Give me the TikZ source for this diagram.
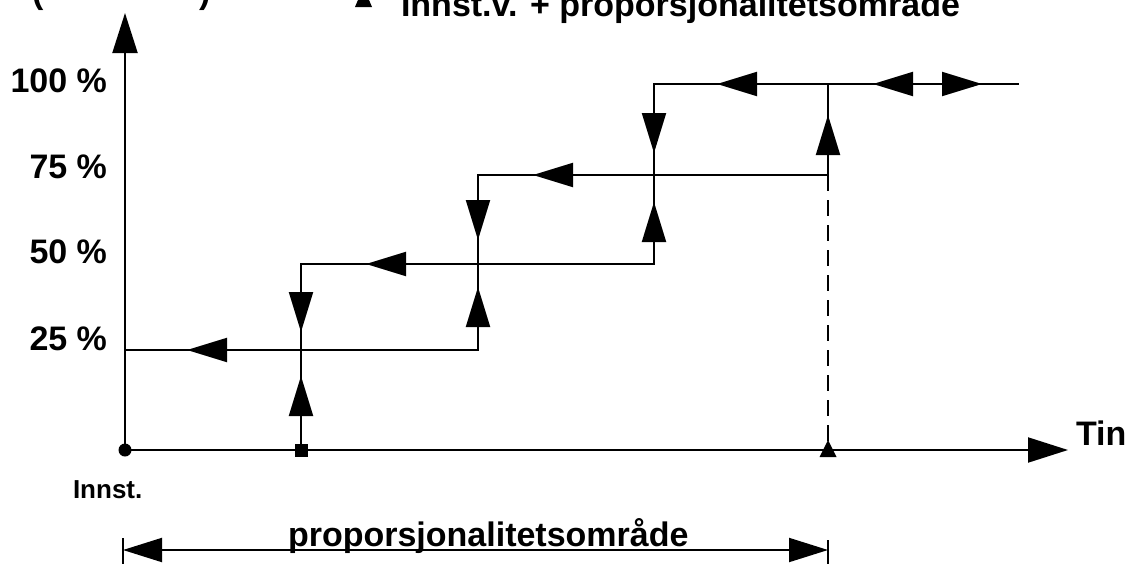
\documentclass[tikz,border=0pt]{standalone}
\usepackage{fontspec}
\setmainfont{Liberation Sans}
\usetikzlibrary{arrows.meta}
\begin{document}
\begin{tikzpicture}[x=1pt,y=-1pt,line width=2pt,
  lbl/.style={font=\bfseries\fontsize{34}{40}\selectfont,inner sep=0pt},
  small/.style={font=\bfseries\fontsize{26}{30}\selectfont,inner sep=0pt},
  ahead/.style={-{Triangle[length=40pt,width=24pt]}},
  axis/.style={-{Triangle[length=40pt,width=25pt]}},
  dashline/.style={dash pattern=on 16pt off 9pt},
  marker/.style={fill=black,inner sep=0pt,minimum size=13pt}]
\useasboundingbox (0,0) rectangle (1128,563);
% named points
\coordinate (O) at (125,450);
\coordinate (Ytop) at (125,13);
\coordinate (Xend) at (1068,450);
\coordinate (A0) at (301,450);
\coordinate (A1) at (301,264);
\coordinate (L25s) at (125,350);
\coordinate (L25e) at (478,350);
\coordinate (B1) at (478,175);
\coordinate (L50e) at (654,264);
\coordinate (C1) at (654,84);
\coordinate (L75e) at (828,175);
\coordinate (D1) at (828,84);
\coordinate (D0) at (828,450);
\coordinate (L100e) at (1019,84);
\coordinate (Bl) at (123,550);
\coordinate (Br) at (828,550);
% axes
\draw[axis] (O) -- (Ytop);
\draw[axis] (O) -- (Xend);
% steps
\draw (A0) -- (A1) -- (L50e) -- (C1) -- (L100e);
\draw (L25s) -- (L25e) -- (B1) -- (L75e) -- (D1);
\draw[dashline] (L75e) -- (D0);
% arrowheads along the lines
\draw[ahead] (227,350) -- (187,350);
\draw[ahead] (301,416) -- (301,376);
\draw[ahead] (301,293) -- (301,332);
\draw[ahead] (406,264) -- (366,264);
\draw[ahead] (478,327) -- (478,287);
\draw[ahead] (478,201) -- (478,240);
\draw[ahead] (572,175) -- (533,175);
\draw[ahead] (654,241) -- (654,202);
\draw[ahead] (654,114) -- (654,153);
\draw[ahead] (757,84) -- (717,84);
\draw[ahead] (828,155) -- (828,115);
\draw[ahead] (913,84) -- (873,84);
\draw[ahead] (941,84) -- (982,84);
% markers on axis
\node[marker,circle] (mO) at (O) {};
\node[marker,rectangle] (mA) at (A0) {};
\fill (828,440) -- (836.5,457) -- (819.5,457) -- cycle;
% labels
\node[lbl,anchor=base east] (p100) at (108,92) {100 \%};
\node[lbl,anchor=base east] (p75) at (108,178) {75 \%};
\node[lbl,anchor=base east] (p50) at (108,263) {50 \%};
\node[lbl,anchor=base east] (p25) at (108,350) {25 \%};
\node[lbl,anchor=base west] (tin) at (1075,445) {Tin};
\node[small,anchor=base west] (innst) at (72,498) {Innst.};
% top (cut) legend
\node[lbl,anchor=base west] (lp) at (31,3) {(};
\node[lbl,anchor=base west] (rp) at (198,3) {)};
\fill (355,7) -- (372,7) -- (363.5,-13) -- cycle;
\node[lbl,anchor=base west] (top) at (400,16) {Innst.v. + proporsjonalitetsområde};
% bottom dimension
\draw[{Triangle[length=39pt,width=24pt]}-{Triangle[length=39pt,width=24pt]}] (Bl) -- (Br);
\draw (123,538) -- (123,570);
\draw (828,540) -- (828,570);
\node[lbl,anchor=base west] (prop) at (287,546) {proporsjonalitetsområde};
\end{tikzpicture}
\end{document}
